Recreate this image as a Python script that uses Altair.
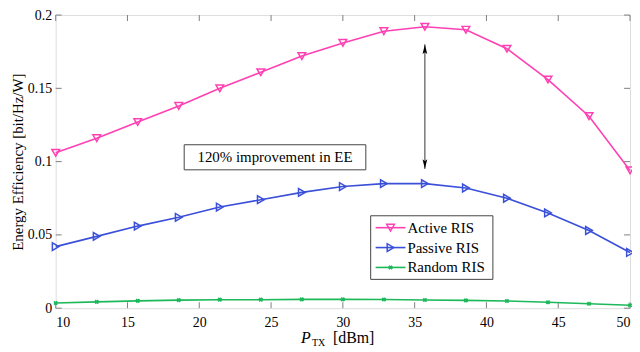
import altair as alt
import pandas as pd

# ---- data ----
p_tx = [10, 12.857, 15.714, 18.571, 21.429, 24.286, 27.143, 30, 32.857, 35.714, 38.571, 41.429, 44.286, 47.143, 50]
active = [0.106, 0.116, 0.127, 0.138, 0.150, 0.161, 0.172, 0.181, 0.189, 0.192, 0.190, 0.177, 0.156, 0.131, 0.094]
passive = [0.042, 0.049, 0.056, 0.062, 0.069, 0.074, 0.079, 0.083, 0.085, 0.085, 0.082, 0.075, 0.065, 0.053, 0.038]
random_ris = [0.0035, 0.0043, 0.0050, 0.0055, 0.0058, 0.0058, 0.0060, 0.0060, 0.0059, 0.0056, 0.0053, 0.0049, 0.0040, 0.0030, 0.0020]
series_names = ["Active RIS", "Passive RIS", "Random RIS"]
series_colors = ["#ff40b4", "#3a50d8", "#1db85a"]
x_ticks = [10, 15, 20, 25, 30, 35, 40, 45, 50]
y_ticks = [0, 0.05, 0.1, 0.15, 0.2]
arrow_x = [35.714]
arrow_y = [0.180, 0.095]
annot_text = "120% improvement in EE"
annot_box_x = [18.95, 31.6]
annot_box_y = [0.0944, 0.1115]

W, H = 578, 295
FONT = "Liberation Serif"
GREY = "#7f7f7f"

xs = alt.Scale(domain=[10, 50], nice=False, zero=False)
ys = alt.Scale(domain=[0, 0.2], nice=False)

df = pd.DataFrame({
    "x": p_tx * 3,
    "y": active + passive + random_ris,
    "s": [series_names[0]] * len(p_tx) + [series_names[1]] * len(p_tx) + [series_names[2]] * len(p_tx),
})

layers = []

base_axes = alt.Chart(pd.DataFrame({"x": [10], "y": [0]})).mark_point(opacity=0).encode(
    x=alt.X("x:Q", scale=xs, axis=alt.Axis(values=x_ticks, domain=False, ticks=False, grid=False,
                                            labelFont=FONT, labelFontSize=14, labelColor="#000",
                                            labelPadding=7, title=None)),
    y=alt.Y("y:Q", scale=ys, axis=alt.Axis(values=y_ticks, format="~g", domain=False, ticks=False, grid=False,
                                            labelFont=FONT, labelFontSize=14, labelColor="#000",
                                            labelPadding=4, title="Energy Efficiency [bit/Hz/W]",
                                            titleFont=FONT, titleFontSize=15, titleFontWeight="normal",
                                            titleColor="#000", titlePadding=2)),
)
layers.append(base_axes)

xt = pd.DataFrame({"x": x_ticks})
yt = pd.DataFrame({"y": y_ticks})
layers.append(alt.Chart(xt).mark_rule(color=GREY, strokeWidth=1).encode(x=alt.X("x:Q", scale=xs), y=alt.value(H), y2=alt.value(H - 6)))
layers.append(alt.Chart(xt).mark_rule(color=GREY, strokeWidth=1).encode(x=alt.X("x:Q", scale=xs), y=alt.value(0), y2=alt.value(6)))
layers.append(alt.Chart(yt).mark_rule(color=GREY, strokeWidth=1).encode(y=alt.Y("y:Q", scale=ys), x=alt.value(0), x2=alt.value(6)))
layers.append(alt.Chart(yt).mark_rule(color=GREY, strokeWidth=1).encode(y=alt.Y("y:Q", scale=ys), x=alt.value(W), x2=alt.value(W - 6)))

color_enc = alt.Color("s:N", scale=alt.Scale(domain=series_names, range=series_colors), legend=None)

layers.append(alt.Chart(df).mark_line(strokeWidth=1.6).encode(
    x=alt.X("x:Q", scale=xs), y=alt.Y("y:Q", scale=ys), color=color_enc, detail="s:N"))

shapes = ["triangle-down", "triangle-right", "cross"]
for name, col, shp in zip(series_names, series_colors, shapes):
    sub = df[df["s"] == name]
    if shp == "cross":
        mk = alt.Chart(sub).mark_point(shape="cross", angle=45, filled=True, size=22, color=col, opacity=1)
    else:
        mk = alt.Chart(sub).mark_point(shape=shp, filled=False, size=60, strokeWidth=1.5, color=col, opacity=1)
    layers.append(mk.encode(x=alt.X("x:Q", scale=xs), y=alt.Y("y:Q", scale=ys)))

adf = pd.DataFrame({"x": arrow_x, "y": [arrow_y[0]], "y2": [arrow_y[1]]})
layers.append(alt.Chart(adf).mark_rule(color="#333", strokeWidth=1).encode(
    x=alt.X("x:Q", scale=xs), y=alt.Y("y:Q", scale=ys), y2="y2:Q"))
layers.append(alt.Chart(pd.DataFrame({"x": arrow_x, "y": [arrow_y[0]]})).mark_point(
    shape="M0,-1L0.5,1L0,0.6L-0.5,1Z", filled=True, color="#000", size=90, yOffset=5, opacity=1).encode(
    x=alt.X("x:Q", scale=xs), y=alt.Y("y:Q", scale=ys)))
layers.append(alt.Chart(pd.DataFrame({"x": arrow_x, "y": [arrow_y[1]]})).mark_point(
    shape="M0,1L0.5,-1L0,-0.6L-0.5,-1Z", filled=True, color="#000", size=90, yOffset=-5, opacity=1).encode(
    x=alt.X("x:Q", scale=xs), y=alt.Y("y:Q", scale=ys)))

bdf = pd.DataFrame({"x": [annot_box_x[0]], "x2": [annot_box_x[1]], "y": [annot_box_y[0]], "y2": [annot_box_y[1]]})
layers.append(alt.Chart(bdf).mark_rect(fill="white", stroke="#444", strokeWidth=1).encode(
    x=alt.X("x:Q", scale=xs), x2="x2:Q", y=alt.Y("y:Q", scale=ys), y2="y2:Q"))
tdf = pd.DataFrame({"x": [(annot_box_x[0] + annot_box_x[1]) / 2], "y": [(annot_box_y[0] + annot_box_y[1]) / 2], "t": [annot_text]})
layers.append(alt.Chart(tdf).mark_text(font=FONT, fontSize=15, color="#000", baseline="middle", align="center").encode(
    x=alt.X("x:Q", scale=xs), y=alt.Y("y:Q", scale=ys), text="t:N"))

one = pd.DataFrame({"a": [0]})
LX0, LX1, LY0, LY1 = 317, 440, 202, 266
layers.append(alt.Chart(one).mark_rect(fill="white", stroke="#444", strokeWidth=1).encode(
    x=alt.value(LX0), x2=alt.value(LX1), y=alt.value(LY0), y2=alt.value(LY1)))
for i, (name, col, shp) in enumerate(zip(series_names, series_colors, shapes)):
    yy = 214 + 20 * i
    layers.append(alt.Chart(one).mark_rule(color=col, strokeWidth=1.6).encode(
        x=alt.value(LX0 + 5), x2=alt.value(LX0 + 35), y=alt.value(yy)))
    if shp == "cross":
        m = alt.Chart(one).mark_point(shape="cross", angle=45, filled=True, size=22, color=col, opacity=1)
    else:
        m = alt.Chart(one).mark_point(shape=shp, filled=False, size=60, strokeWidth=1.5, color=col, opacity=1)
    layers.append(m.encode(x=alt.value(LX0 + 20), y=alt.value(yy)))
    layers.append(alt.Chart(pd.DataFrame({"t": [name]})).mark_text(
        font=FONT, fontSize=15, color="#000", align="left", baseline="middle").encode(
        x=alt.value(LX0 + 37), y=alt.value(yy), text="t:N"))

layers.append(alt.Chart(pd.DataFrame({"t": ["P"]})).mark_text(
    font=FONT, fontSize=16, fontStyle="italic", color="#000", align="left", baseline="alphabetic").encode(
    x=alt.value(247), y=alt.value(330), text="t:N"))
layers.append(alt.Chart(pd.DataFrame({"t": ["TX"]})).mark_text(
    font=FONT, fontSize=10, color="#000", align="left", baseline="alphabetic").encode(
    x=alt.value(258), y=alt.value(333), text="t:N"))
layers.append(alt.Chart(pd.DataFrame({"t": ["[dBm]"]})).mark_text(
    font=FONT, fontSize=16, color="#000", align="left", baseline="alphabetic").encode(
    x=alt.value(279), y=alt.value(330), text="t:N"))

chart = alt.layer(*layers).properties(
    width=W, height=H,
    autosize=alt.AutoSizeParams(type="none"),
    padding={"left": 48, "top": 6, "right": 2, "bottom": 42},
).configure_view(stroke=GREY, strokeWidth=1).configure(background="white", font=FONT)

chart.save("out.html", embed_options={"renderer": "svg", "actions": False})
